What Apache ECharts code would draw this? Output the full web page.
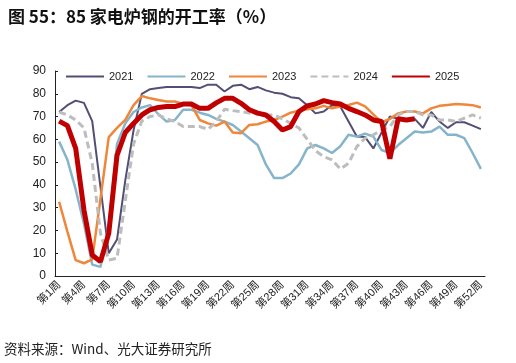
<!DOCTYPE html>
<html><head><meta charset="utf-8">
<script src="https://cdn.jsdelivr.net/npm/echarts@6/dist/echarts.min.js"></script>
<style>html,body{margin:0;padding:0;background:#fff}#c{width:516px;height:363px}</style>
</head><body><div id="c"></div>
<script>
const weeks = [];
for (let i = 1; i <= 52; i++) weeks.push('第' + i + '周');
const s2021 = [72,75,77,76,68,39,10,16,42,64,80,82,82.5,83,83,83,83,82.5,84,84,81,83.5,84,82,83,81.5,80.5,80,78.5,78,75,71.4,72.2,75,74.4,67.8,61.2,61,56,63,70,69,68,69,65,72,67.8,65,67.5,67.5,66,64.5];
const s2022 = [59,51,38,23,5,4,22,58,67,72,74,75,71,67.8,68.5,73,73,71.7,70.7,69,67.8,66.3,63.4,60.5,57.5,49,43,43,45,49,56,57.5,56,54,57,62,61.2,62.5,61.2,55.3,54,57.5,60.5,63.4,63,63.4,65.6,62,62,60.5,54,47];
const s2023 = [32.6,19.5,7,5.6,7.3,34,61,65,68.5,75,79,78,77.3,76.6,76.6,75.5,75,68.5,67,66,67.8,63,62.7,66.3,66.6,67.8,68.5,70,71.7,72.6,73.2,73.6,74.7,73.6,74.4,75.1,76.1,74.5,71,67.5,69,71.4,72.2,72.2,71.4,73.6,74.7,75.1,75.5,75.3,75,74];
const s2024 = [72,70.7,68.5,65,49.5,18.7,7,7.8,33,58,68,70,70.7,69,67.8,65.6,65.6,65.6,64.4,67.8,73.2,72.6,72.2,71.5,71.2,70.7,70.7,69,67,65,60,55,52.4,51,47,49.5,56.8,60.5,62,64,65.6,70.7,72.2,72.2,70.7,70.7,68.5,68.5,67.8,69.3,70.7,69.3];
const s2025 = [68,66,56,29,9.2,6.3,18.7,53,63,67,70.7,73,74,74.4,74.4,75.5,75.5,73.6,73.6,76,78,78,75.8,73,71.5,70.7,67.8,64.1,65.6,72.2,74.7,75.5,77,76.1,75.5,73.6,72.2,70.7,68.5,67.8,51.5,69,68.5,69];
const yTicks = [0,10,20,30,40,50,60,70,80,90];

const chart = echarts.init(document.getElementById('c'), null, {renderer:'canvas'});
const numFont = 'Liberation Sans, Arial, Noto Sans CJK SC, sans-serif';
const cjkFont = 'Noto Sans CJK SC, sans-serif';
function ser(name, data, color, width, type) {
  return {name, type:'line', data, symbol:'none', smooth:false,
    lineStyle:{color, width, type: type || 'solid'}, itemStyle:{color, opacity:0}};
}
chart.setOption({
  animation:false,
  title:{text:'图 55：85 家电炉钢的开工率（%）', left:3, top:3,
    textStyle:{fontFamily:cjkFont, fontSize:17, fontWeight:'bold', color:'#111'}},
  graphic:[{type:'text', left:4, top:342, style:{text:'资料来源：Wind、光大证券研究所',
    font:'13.5px ' + cjkFont, fill:'#222'}}],
  legend:{left:60, top:66, itemWidth:38, itemHeight:10, itemGap:13,
    itemStyle:{opacity:0},
    textStyle:{fontFamily:numFont, fontSize:11, color:'#222'},
    data:['2021','2022','2023','2024','2025']},
  grid:{left:55, right:31, top:71, bottom:87, containLabel:false},
  xAxis:{type:'category', data:weeks, boundaryGap:true,
    axisLine:{lineStyle:{color:'#222', width:1}},
    axisTick:{inside:true, length:3, interval:2, lineStyle:{color:'#222'}},
    axisLabel:{interval:2, rotate:45, margin:7, fontSize:11, color:'#222', fontFamily:numFont}},
  yAxis:{type:'value', min:0, max:90, interval:10,
    axisLine:{show:true, lineStyle:{color:'#222', width:1}},
    axisTick:{show:true, inside:true, length:3, lineStyle:{color:'#222'}},
    splitLine:{show:false},
    axisLabel:{margin:9, fontSize:12, color:'#222', fontFamily:numFont,
      formatter: v => yTicks.includes(v) ? String(v) : ''}},
  series:[
    ser('2021', s2021, '#524f75', 2),
    ser('2022', s2022, '#86b4ca', 2.5),
    ser('2023', s2023, '#f0863a', 2.5),
    ser('2024', s2024, '#bdbdbd', 3, [7,4]),
    ser('2025', s2025, '#c00000', 5)
  ]
});
</script></body></html>
